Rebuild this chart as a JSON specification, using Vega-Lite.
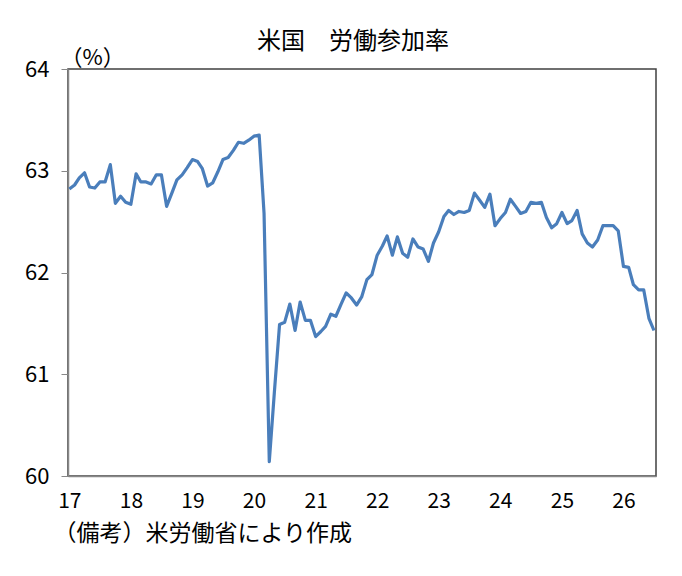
{
  "$schema": "https://vega.github.io/schema/vega-lite/v6.json",
  "description": "米国 労働参加率 (月次)",
  "autosize": "none",
  "padding": {"left": 68, "top": 69, "right": 26, "bottom": 100},
  "width": 588,
  "height": 407,
  "background": "white",
  "title": {
    "text": "米国　労働参加率",
    "fontSize": 24,
    "fontWeight": "normal",
    "color": "#000",
    "offset": 14,
    "dy": 22,
    "dx": -9
  },
  "data": {
    "values": [
      {"date": "2017-01", "v": 62.82}, {"date": "2017-02", "v": 62.86}, {"date": "2017-03", "v": 62.93},
      {"date": "2017-04", "v": 62.98}, {"date": "2017-05", "v": 62.84}, {"date": "2017-06", "v": 62.83},
      {"date": "2017-07", "v": 62.89}, {"date": "2017-08", "v": 62.89}, {"date": "2017-09", "v": 63.06},
      {"date": "2017-10", "v": 62.68}, {"date": "2017-11", "v": 62.75}, {"date": "2017-12", "v": 62.69},
      {"date": "2018-01", "v": 62.67}, {"date": "2018-02", "v": 62.97}, {"date": "2018-03", "v": 62.89},
      {"date": "2018-04", "v": 62.89}, {"date": "2018-05", "v": 62.87}, {"date": "2018-06", "v": 62.96},
      {"date": "2018-07", "v": 62.96}, {"date": "2018-08", "v": 62.65}, {"date": "2018-09", "v": 62.78},
      {"date": "2018-10", "v": 62.91}, {"date": "2018-11", "v": 62.96}, {"date": "2018-12", "v": 63.03},
      {"date": "2019-01", "v": 63.11}, {"date": "2019-02", "v": 63.09}, {"date": "2019-03", "v": 63.02},
      {"date": "2019-04", "v": 62.85}, {"date": "2019-05", "v": 62.88}, {"date": "2019-06", "v": 62.99},
      {"date": "2019-07", "v": 63.11}, {"date": "2019-08", "v": 63.13}, {"date": "2019-09", "v": 63.2},
      {"date": "2019-10", "v": 63.28}, {"date": "2019-11", "v": 63.27}, {"date": "2019-12", "v": 63.3},
      {"date": "2020-01", "v": 63.34}, {"date": "2020-02", "v": 63.35}, {"date": "2020-03", "v": 62.58},
      {"date": "2020-04", "v": 60.14}, {"date": "2020-05", "v": 60.82}, {"date": "2020-06", "v": 61.49},
      {"date": "2020-07", "v": 61.51}, {"date": "2020-08", "v": 61.69}, {"date": "2020-09", "v": 61.43},
      {"date": "2020-10", "v": 61.71}, {"date": "2020-11", "v": 61.53}, {"date": "2020-12", "v": 61.53},
      {"date": "2021-01", "v": 61.37}, {"date": "2021-02", "v": 61.42}, {"date": "2021-03", "v": 61.47},
      {"date": "2021-04", "v": 61.59}, {"date": "2021-05", "v": 61.57}, {"date": "2021-06", "v": 61.69},
      {"date": "2021-07", "v": 61.8}, {"date": "2021-08", "v": 61.75}, {"date": "2021-09", "v": 61.68},
      {"date": "2021-10", "v": 61.76}, {"date": "2021-11", "v": 61.93}, {"date": "2021-12", "v": 61.98},
      {"date": "2022-01", "v": 62.17}, {"date": "2022-02", "v": 62.26}, {"date": "2022-03", "v": 62.36},
      {"date": "2022-04", "v": 62.17}, {"date": "2022-05", "v": 62.35}, {"date": "2022-06", "v": 62.19},
      {"date": "2022-07", "v": 62.15}, {"date": "2022-08", "v": 62.33}, {"date": "2022-09", "v": 62.25},
      {"date": "2022-10", "v": 62.23}, {"date": "2022-11", "v": 62.11}, {"date": "2022-12", "v": 62.29},
      {"date": "2023-01", "v": 62.4}, {"date": "2023-02", "v": 62.55}, {"date": "2023-03", "v": 62.61},
      {"date": "2023-04", "v": 62.57}, {"date": "2023-05", "v": 62.6}, {"date": "2023-06", "v": 62.59},
      {"date": "2023-07", "v": 62.61}, {"date": "2023-08", "v": 62.78}, {"date": "2023-09", "v": 62.71},
      {"date": "2023-10", "v": 62.64}, {"date": "2023-11", "v": 62.77}, {"date": "2023-12", "v": 62.46},
      {"date": "2024-01", "v": 62.53}, {"date": "2024-02", "v": 62.59}, {"date": "2024-03", "v": 62.72},
      {"date": "2024-04", "v": 62.65}, {"date": "2024-05", "v": 62.58}, {"date": "2024-06", "v": 62.6},
      {"date": "2024-07", "v": 62.69}, {"date": "2024-08", "v": 62.68}, {"date": "2024-09", "v": 62.69},
      {"date": "2024-10", "v": 62.54}, {"date": "2024-11", "v": 62.44}, {"date": "2024-12", "v": 62.48},
      {"date": "2025-01", "v": 62.59}, {"date": "2025-02", "v": 62.48}, {"date": "2025-03", "v": 62.51},
      {"date": "2025-04", "v": 62.61}, {"date": "2025-05", "v": 62.38}, {"date": "2025-06", "v": 62.29},
      {"date": "2025-07", "v": 62.25}, {"date": "2025-08", "v": 62.32}, {"date": "2025-09", "v": 62.46},
      {"date": "2025-10", "v": 62.46}, {"date": "2025-11", "v": 62.46}, {"date": "2025-12", "v": 62.41},
      {"date": "2026-01", "v": 62.06}, {"date": "2026-02", "v": 62.05}, {"date": "2026-03", "v": 61.88},
      {"date": "2026-04", "v": 61.83}, {"date": "2026-05", "v": 61.83}, {"date": "2026-06", "v": 61.55},
      {"date": "2026-07", "v": 61.43}
    ]
  },
  "mark": {"type": "line", "color": "#4a7ebb", "strokeWidth": 3.2, "strokeJoin": "round"},
  "encoding": {
    "x": {
      "field": "date",
      "type": "temporal",
      "scale": {
        "type": "utc",
        "domain": [
          {"year": 2016, "month": 12, "date": 24, "utc": true},
          {"year": 2026, "month": 7, "date": 13, "utc": true}
        ]
      },
      "axis": {
        "format": "%y",
        "tickCount": {"interval": "year", "step": 1},
        "ticks": false,
        "grid": false,
        "labelFlush": false,
        "labelPadding": 14,
        "labelFontSize": 21,
        "labelColor": "#000",
        "domainColor": "#888",
        "domainWidth": 1.5,
        "title": "（備考）米労働省により作成",
        "titleAnchor": "start",
        "titleAlign": "left",
        "titleX": -15,
        "titleY": 57,
        "titleBaseline": "middle",
        "titleFontSize": 23,
        "titleFontWeight": "normal",
        "titleColor": "#000"
      }
    },
    "y": {
      "field": "v",
      "type": "quantitative",
      "scale": {"domain": [60, 64], "nice": false, "zero": false},
      "axis": {
        "values": [60, 61, 62, 63, 64],
        "grid": false,
        "tickSize": 7,
        "tickColor": "#888",
        "domainColor": "#888",
        "domainWidth": 1.5,
        "labelFlush": false,
        "labelPadding": 12,
        "labelFontSize": 22,
        "labelColor": "#000",
        "title": "（%）",
        "titleAngle": 0,
        "titleAlign": "left",
        "titleX": -8,
        "titleY": -12,
        "titleBaseline": "middle",
        "titleFontSize": 22,
        "titleFontWeight": "normal",
        "titleColor": "#000"
      }
    }
  },
  "config": {
    "font": "Noto Sans CJK JP",
    "view": {"stroke": "#404040", "strokeWidth": 1.5}
  }
}
